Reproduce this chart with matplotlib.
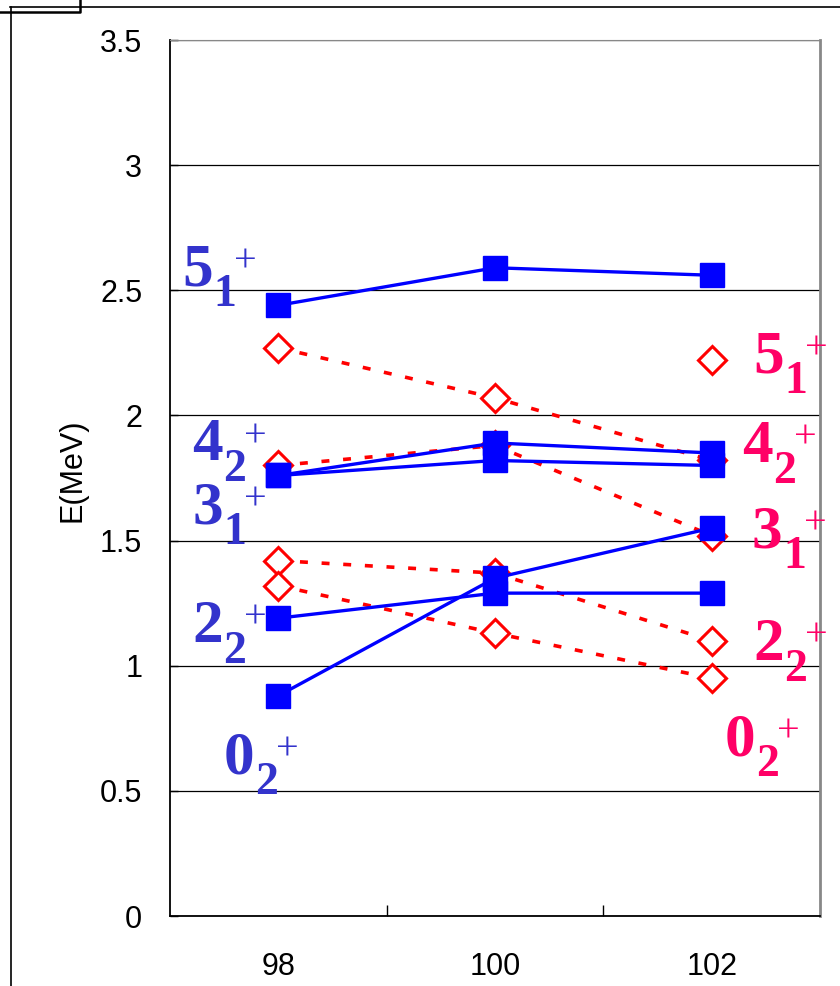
import numpy as np
import matplotlib
matplotlib.use("Agg")
import matplotlib.pyplot as plt
from matplotlib.lines import Line2D

plt.rcParams['font.family'] = ['Liberation Sans', 'DejaVu Sans']

# mass numbers on the x axis
masses = ['98', '100', '102']

# experiment (blue, filled squares)
exp_5_1 = [2.44, 2.59, 2.56]
exp_4_2 = [1.76, 1.89, 1.85]
exp_3_1 = [1.76, 1.82, 1.80]
exp_2_2 = [1.19, 1.29, 1.29]
exp_0_2 = [0.88, 1.35, 1.55]

# theory (red, open diamonds, dotted)
th_a = [2.27, 2.07, 1.82]
th_b = [1.80, 1.88, 1.52]
th_c = [1.42, 1.37, 1.10]
th_d = [1.32, 1.13, 0.95]
th_lone = [np.nan, np.nan, 2.22]

level_digits = ['5', '4', '3', '2', '0']
level_subs = ['1', '2', '1', '2', '2']

# label anchors (left/baseline of the big digit, data coords)
blue_pos = [(-0.445, 2.52), (-0.398, 1.82), (-0.398, 1.57), (-0.398, 1.095), (-0.251, 0.571)]
red_pos = [(2.191, 2.173), (2.140, 1.814), (2.186, 1.474), (2.191, 1.023), (2.062, 0.643)]

fig = plt.figure(figsize=(8.4, 9.86), dpi=100)
ax = fig.add_axes([170/840, 1-916/986, 650/840, 876/986])

x = np.arange(len(masses))

for s in [th_a, th_b, th_c, th_d, th_lone]:
    ax.plot(x, s, color='red', lw=2.6, ls=(0, (2.2, 3.8)), marker='D', ms=14,
            mfc='white', mec='red', mew=2.2, zorder=3)

for s in [exp_5_1, exp_4_2, exp_3_1, exp_2_2, exp_0_2]:
    ax.plot(x, s, color='blue', lw=2.4, marker='s', ms=17, mfc='blue',
            mec='blue', zorder=4)

ax.set_xlim(-0.5, 2.5)
ax.set_ylim(0, 3.5)
ax.set_yticks(np.arange(0, 3.51, 0.5))
ax.set_yticklabels(['0', '0.5', '1', '1.5', '2', '2.5', '3', '3.5'])
ax.set_xticks(x)
ax.set_xticklabels(masses)
ax.set_xticks([0.5, 1.5], minor=True)
ax.tick_params(axis='x', which='major', length=0, pad=26, labelsize=22)
ax.tick_params(axis='x', which='minor', length=8, direction='in', width=1)
ax.tick_params(axis='y', length=6, direction='in', pad=20, width=1, labelsize=22)

ax.yaxis.grid(True, color='black', lw=0.9)
ax.set_axisbelow(True)
ax.spines['right'].set_color('#888888')
ax.spines['right'].set_linewidth(2)
ax.spines['top'].set_color('#888888')
ax.spines['left'].set_linewidth(1.3)
ax.spines['bottom'].set_linewidth(1.3)

fig.text(72/840, 1-470/986, 'E(MeV)', rotation=90, ha='center', va='center',
         fontsize=22)


def level_label(pos, digit, sub, color):
    serif = 'Liberation Serif'
    ax.text(pos[0], pos[1], digit, color=color, fontsize=44, fontweight='bold',
            family=serif, ha='left', va='baseline', zorder=5)
    ax.annotate(sub, pos, xytext=(31*0.72, -21*0.72), textcoords='offset points',
                color=color, fontsize=33, fontweight='bold', family=serif,
                ha='left', va='baseline', zorder=5)
    ax.annotate('+', pos, xytext=(52*0.72, 14*0.72), textcoords='offset points',
                color=color, fontsize=29, family=serif,
                ha='left', va='baseline', zorder=5)


for d, s, p in zip(level_digits, level_subs, blue_pos):
    level_label(p, d, s, '#3333cc')
for d, s, p in zip(level_digits, level_subs, red_pos):
    level_label(p, d, s, '#ff0066')

# outer frame bits
fig.add_artist(Line2D([10/840, 1], [1-7/986, 1-7/986], color='black', lw=1.2))
fig.add_artist(Line2D([11/840, 11/840], [0, 1-7/986], color='black', lw=1.2))
fig.add_artist(Line2D([0, 80/840, 80/840], [1-12/986, 1-12/986, 1], color='black', lw=1.8))

fig.savefig('out.png', dpi=100)
